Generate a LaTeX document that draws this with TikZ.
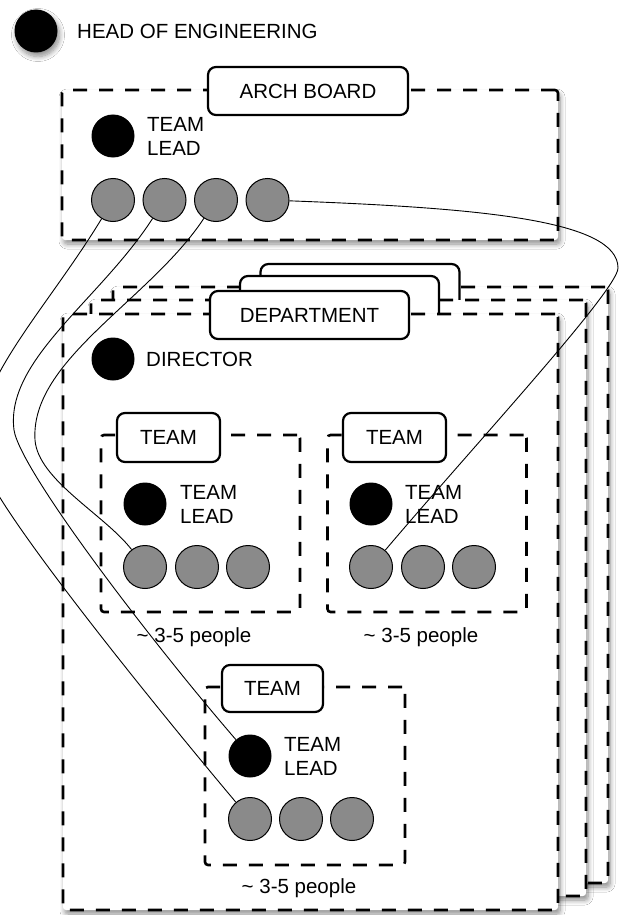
\documentclass[tikz,border=0pt]{standalone}
\usepackage{fontspec}
\setmainfont{Liberation Sans}
\usetikzlibrary{shadows.blur}
\definecolor{memgray}{RGB}{138,138,138}
\begin{document}
\begin{tikzpicture}[x=1pt,y=-1pt,
  lbl/.style={font=\fontsize{20.5}{24}\selectfont, inner sep=0pt, align=left},
  boss/.style={circle, fill=black, minimum size=43pt, inner sep=0pt},
  member/.style={circle, draw=black, line width=1pt, fill=memgray, minimum size=43pt, inner sep=0pt},
  group/.style={draw=black, line width=2.6pt, dash pattern=on 14pt off 12pt, rounded corners=3pt, fill=white, inner sep=0pt},
  shade/.style={blur shadow={shadow blur steps=8, shadow xshift=2pt, shadow yshift=-4pt, shadow blur radius=5pt, shadow opacity=45}},
  tabbox/.style={draw=black, line width=2.2pt, rounded corners=8pt, fill=white, inner sep=0pt, font=\fontsize{20.5}{24}\selectfont},
  link/.style={draw=black, line width=0.9pt},
]
\useasboundingbox[fill=white] (0,0) rectangle (621,915);

% head of engineering
\node[boss, shade] (head) at (36,31) {};
\node[lbl, anchor=west] (headtxt) at (77,31) {HEAD OF ENGINEERING};

% arch board
\node[group, shade, minimum width=496pt, minimum height=150pt] (arch) at (310,165) {};
\node[tabbox, minimum width=200pt, minimum height=48pt] (archtab) at (308,91) {ARCH BOARD};
\node[boss] (alead) at (113,136) {};
\node[lbl, anchor=west] (aleadtxt) at (147,136) {TEAM\\LEAD};
\node[member] (a1) at (113,200) {};
\node[member] (a2) at (164.5,200) {};
\node[member] (a3) at (216,200) {};
\node[member] (a4) at (267.5,200) {};

% department stack
\node[group, shade, minimum width=495pt, minimum height=596pt] (dback) at (360.5,585) {};
\node[tabbox, minimum width=199pt, minimum height=48pt] (tback) at (360,288) {};
\node[group, shade, minimum width=495pt, minimum height=596pt] (dmid) at (338.5,598) {};
\node[tabbox, minimum width=199pt, minimum height=48pt] (tmid) at (339.5,300) {};
\node[group, shade, minimum width=495pt, minimum height=596pt] (dfront) at (310.5,612) {};
\node[tabbox, minimum width=199pt, minimum height=48pt] (tfront) at (309.5,315) {DEPARTMENT};

\node[boss] (dir) at (113,359) {};
\node[lbl, anchor=west] (dirtxt) at (146,359) {DIRECTOR};

% team 1
\node[group, minimum width=199pt, minimum height=177pt] (team1) at (200.5,523.5) {};
\node[tabbox, minimum width=103pt, minimum height=49pt] (tab1) at (168.5,437.5) {TEAM};
\node[boss] (l1) at (145,504) {};
\node[lbl, anchor=west] (l1txt) at (180,504) {TEAM\\LEAD};
\node[member] (t1p1) at (145,567) {};
\node[member] (t1p2) at (197,567) {};
\node[member] (t1p3) at (248,567) {};
\node[lbl] (pp1) at (194,637) {\char`\~\ 3-5 people};

% team 2
\node[group, minimum width=199pt, minimum height=177pt] (team2) at (427,523.5) {};
\node[tabbox, minimum width=103pt, minimum height=49pt] (tab2) at (394.5,437.5) {TEAM};
\node[boss] (l2) at (371,504) {};
\node[lbl, anchor=west] (l2txt) at (405,504) {TEAM\\LEAD};
\node[member] (t2p1) at (371,567) {};
\node[member] (t2p2) at (423,567) {};
\node[member] (t2p3) at (474,567) {};
\node[lbl] (pp2) at (421,637) {\char`\~\ 3-5 people};

% team 3
\node[group, minimum width=200pt, minimum height=178pt] (team3) at (305,776) {};
\node[tabbox, minimum width=101pt, minimum height=47pt] (tab3) at (272.5,688.5) {TEAM};
\node[boss] (l3) at (250,756) {};
\node[lbl, anchor=west] (l3txt) at (284,756) {TEAM\\LEAD};
\node[member] (t3p1) at (250,819) {};
\node[member] (t3p2) at (301,819) {};
\node[member] (t3p3) at (352,819) {};
\node[lbl] (pp3) at (299,888) {\char`\~\ 3-5 people};

% connectors
\coordinate (ka) at (-15,470);
\coordinate (kb) at (14,430);
\coordinate (kc) at (35,440);
\coordinate (kd) at (618,268);
\draw[link] (a1) .. controls (40,320) and (-45,400) .. (ka) .. controls (5,520) and (150,700) .. (t3p1);
\draw[link] (a2) .. controls (100,300) and (5,360) .. (kb) .. controls (20,470) and (150,640) .. (l3);
\draw[link] (a3) .. controls (150,300) and (30,360) .. (kc) .. controls (38,480) and (105,515) .. (t1p1);
\draw[link] (a4) .. controls (480,208) and (618,220) .. (kd) .. controls (618,290) and (470,450) .. (t2p1);
\end{tikzpicture}
\end{document}
